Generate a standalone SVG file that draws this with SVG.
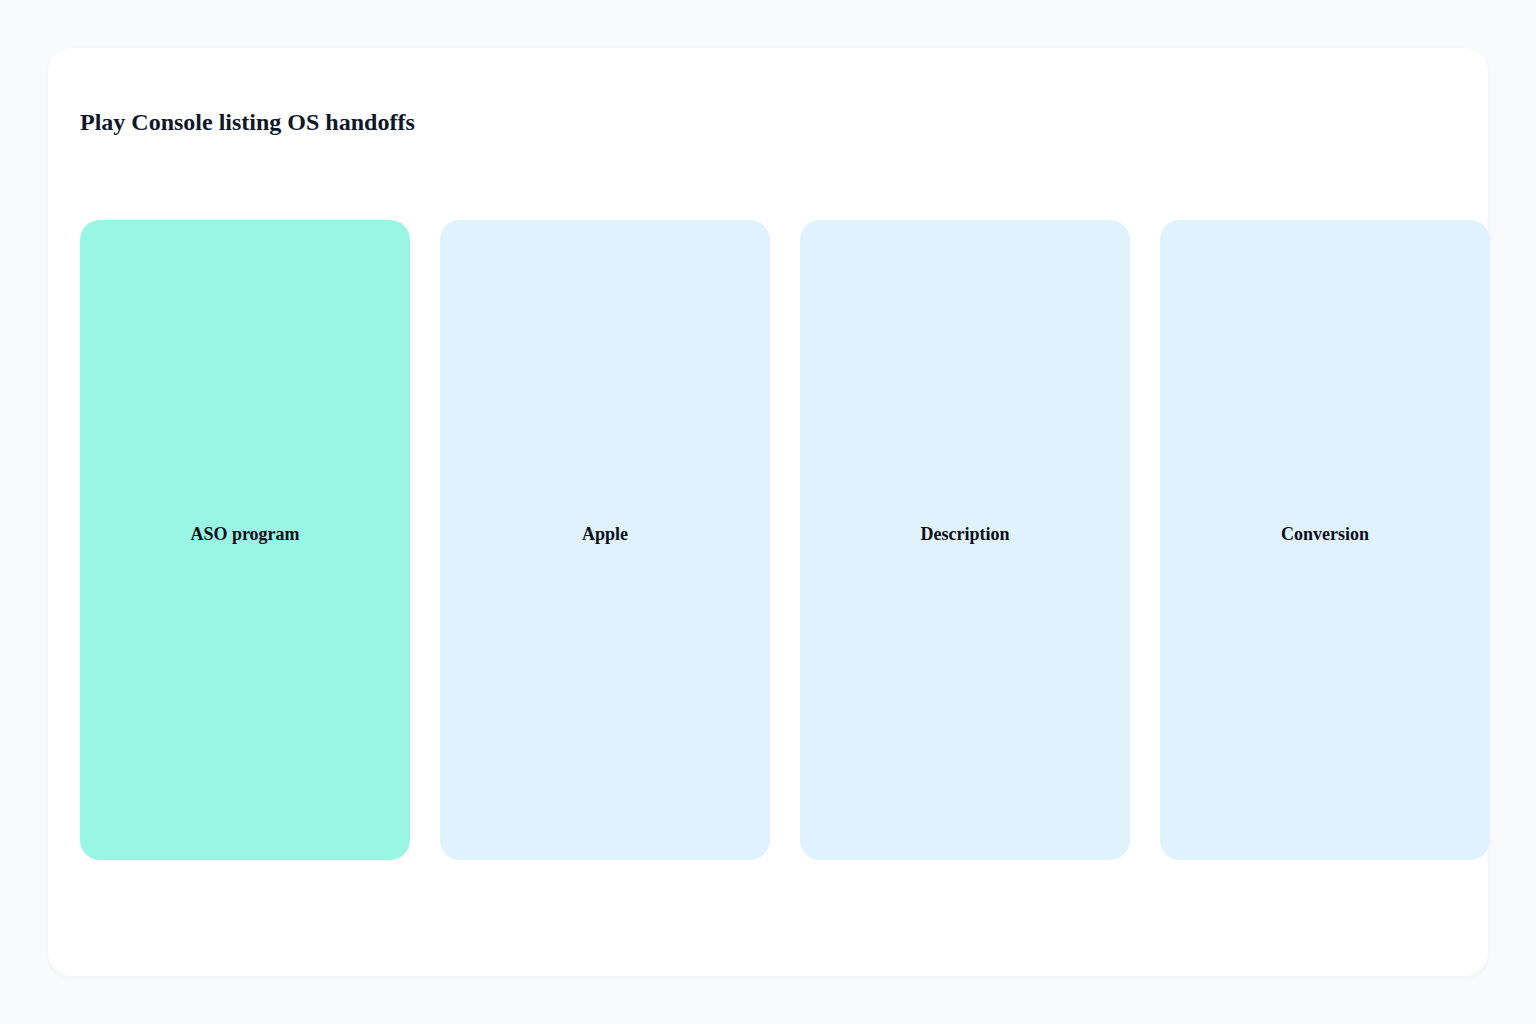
<svg xmlns="http://www.w3.org/2000/svg" width="1536" height="1024" viewBox="0 0 1536 1024">
<style>
.title{font-family:"Liberation Serif","Times New Roman",serif;font-size:24px;font-weight:bold;fill:#0f172a}
.lbl{font-family:"Liberation Serif","Times New Roman",serif;font-size:18px;font-weight:bold;fill:#0b0f19;text-anchor:middle}
.col{fill:#e0f2fe}
.hl{fill:#99f6e4}
</style>
<defs>
<filter id="sh" x="-5%" y="-5%" width="110%" height="110%">
<feDropShadow dx="0" dy="1" stdDeviation="2" flood-color="#0f172a" flood-opacity="0.04"/>
</filter>
</defs>
<rect x="0" y="0" width="1536" height="1024" fill="#f8fafc"/>
<rect x="48" y="48" width="1440" height="928" rx="24" fill="#ffffff" filter="url(#sh)"/>
<text class="title" x="80" y="130">Play Console listing OS handoffs</text>
<g id="connectors"></g>
<g id="node-aso">
<rect class="hl" x="80" y="220" width="330" height="640" rx="20"/>
<text class="lbl" x="245" y="540">ASO program</text>
</g>
<g id="node-apple">
<rect class="col" x="440" y="220" width="330" height="640" rx="20"/>
<text class="lbl" x="605" y="540">Apple</text>
</g>
<g id="node-description">
<rect class="col" x="800" y="220" width="330" height="640" rx="20"/>
<text class="lbl" x="965" y="540">Description</text>
</g>
<g id="node-conversion">
<rect class="col" x="1160" y="220" width="330" height="640" rx="20"/>
<text class="lbl" x="1325" y="540">Conversion</text>
</g>
</svg>
